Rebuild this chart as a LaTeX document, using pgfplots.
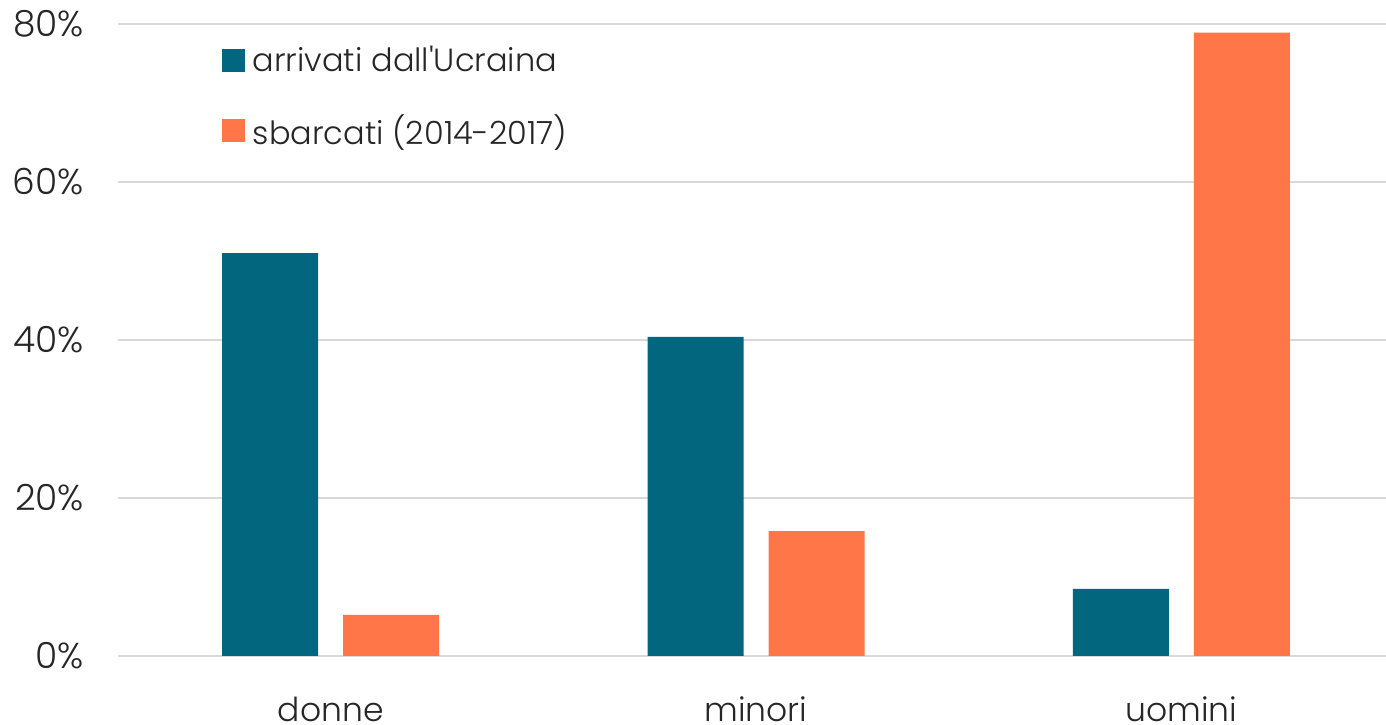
\documentclass[border=0pt]{standalone}
\usepackage{pgfplots}
\pgfplotsset{compat=1.18}
\usepackage{fontspec}
\setmainfont{Poppins}[UprightFont={* Light}]
\definecolor{teal1}{HTML}{03667F}
\definecolor{orange1}{HTML}{FF7649}
\definecolor{gridc}{HTML}{D9D9D9}
\begin{document}
\begin{tikzpicture}
\begin{axis}[
  name=ax,
  scale only axis,
  width=638pt, height=316pt,
  xmin=-0.5, xmax=2.5,
  ymin=0, ymax=80,
  ybar=12.5pt,
  bar width=48pt,
  axis line style={draw=none},
  ytick={0,20,40,60,80},
  yticklabel={\pgfmathprintnumber{\tick}\%},
  /pgf/number format/assume math mode=true,
  xtick={0,1,2},
  xticklabels={donne,minori,uomini},
  major tick length=0pt,
  ymajorgrids,
  grid style={gridc, line width=1pt},
  tick label style={font=\fontsize{16.5}{19}\selectfont, text=black!85},
  yticklabel style={xshift=-13.5pt, font=\fontsize{18}{20}\selectfont},
  xticklabel style={yshift=-17pt},
  legend style={draw=none, fill=none, at={(0.081,0.972)}, anchor=north west,
    font=\fontsize{16}{19}\selectfont, text=black!85,
    row sep=16pt, inner sep=0pt, cells={anchor=west}},
  legend image code/.code={\fill[#1] (0pt,-5.75pt) rectangle (11.5pt,5.75pt);},
  extra y ticks={0},
  extra y tick labels={},
  extra y tick style={grid style={gridc, line width=1.2pt}},
]
\addplot[fill=teal1, draw=none] coordinates {(0,51.0) (1,40.4) (2,8.5)};
\addlegendentry{\hspace{2pt}arrivati dall\textquotesingle Ucraina}
\addplot[fill=orange1, draw=none] coordinates {(0,5.2) (1,15.8) (2,78.9)};
\addlegendentry{\hspace{2pt}sbarcati (2014-2017)}
\end{axis}
\pgfresetboundingbox
\path ([xshift=-59pt, yshift=-34.5pt]ax.south west) rectangle ([xshift=-4pt, yshift=12pt]ax.north east);
\end{tikzpicture}
\end{document}
